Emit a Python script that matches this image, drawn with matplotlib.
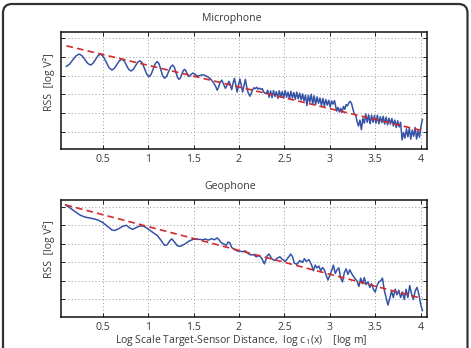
import matplotlib
matplotlib.use("Agg")
import matplotlib.pyplot as plt
from matplotlib.patches import FancyBboxPatch
from matplotlib.transforms import IdentityTransform

plt.rcParams['font.family'] = ['Open Sans', 'DejaVu Sans']
plt.rcParams['mathtext.fontset'] = 'custom'
plt.rcParams['mathtext.rm'] = 'Open Sans'
plt.rcParams['mathtext.it'] = 'Open Sans'

TXT = '#3a3a3a'

# Microphone RSS (log V^2, arbitrary offset; y grid units)
mic_x = [0.10, 0.135, 0.17, 0.205, 0.24, 0.271, 0.3025, 0.334, 0.365, 0.3925, 0.42, 0.4475,
         0.475, 0.506, 0.5375, 0.569, 0.60, 0.6275, 0.655, 0.6825, 0.71, 0.735, 0.76, 0.785,
         0.81, 0.835, 0.86, 0.885, 0.91, 0.935, 0.96, 0.985, 1.01, 1.0325, 1.055, 1.0775,
         1.10, 1.12, 1.14, 1.16, 1.18, 1.2025, 1.225, 1.2475, 1.27, 1.2875, 1.305, 1.3225,
         1.34, 1.355, 1.37, 1.385, 1.40, 1.4125, 1.425, 1.4375, 1.45, 1.47, 1.49, 1.51,
         1.53, 1.55, 1.575, 1.60, 1.625, 1.65, 1.68, 1.70, 1.72, 1.745, 1.76, 1.775, 1.79,
         1.81, 1.83, 1.85, 1.87, 1.89, 1.905, 1.92, 1.935, 1.95, 1.965, 1.98, 1.995, 2.01,
         2.025, 2.04, 2.055, 2.07, 2.085, 2.10, 2.12, 2.135, 2.15, 2.165, 2.18, 2.195, 2.21,
         2.225, 2.24, 2.255, 2.27, 2.285,
         2.300, 2.316, 2.332, 2.348, 2.364, 2.380, 2.396, 2.412, 2.428, 2.444, 2.460, 2.476,
         2.492, 2.508, 2.524, 2.540, 2.556, 2.572, 2.588, 2.604, 2.620, 2.636, 2.652, 2.668,
         2.684, 2.700, 2.716, 2.732, 2.748, 2.764, 2.780, 2.796, 2.812, 2.828, 2.844, 2.860,
         2.876, 2.892, 2.908, 2.924, 2.940, 2.956, 2.972, 2.988, 3.004, 3.020, 3.036, 3.052,
         3.075, 3.090, 3.105, 3.120, 3.135, 3.150, 3.165, 3.180, 3.195, 3.210, 3.225, 3.240,
         3.255, 3.270, 3.285,
         3.300, 3.316, 3.332, 3.348, 3.364, 3.380, 3.396, 3.412, 3.428, 3.444, 3.460, 3.476,
         3.492, 3.508, 3.524, 3.540, 3.556, 3.572, 3.588, 3.604, 3.620, 3.636, 3.652, 3.668,
         3.684, 3.700, 3.716, 3.732, 3.748, 3.764, 3.780, 3.796, 3.812, 3.828, 3.844, 3.860,
         3.876, 3.892, 3.908, 3.924, 3.940, 3.956, 3.972, 3.988, 4.004, 4.020]
mic_y = [3.50, 3.62, 3.85, 4.06, 4.16, 4.07, 3.865, 3.66, 3.57, 3.66, 3.865, 4.07,
         4.16, 4.03, 3.73, 3.43, 3.30, 3.39, 3.595, 3.80, 3.89, 3.80, 3.57, 3.34,
         3.25, 3.33, 3.525, 3.72, 3.80, 3.68, 3.375, 3.07, 2.95, 3.07, 3.355, 3.64,
         3.76, 3.63, 3.31, 2.99, 2.86, 2.96, 3.215, 3.47, 3.57, 3.46, 3.185, 2.91,
         2.80, 2.88, 3.07, 3.26, 3.34, 3.28, 3.145, 3.01, 2.95, 3.05, 3.14, 3.10,
         3.02, 2.98, 3.02, 3.05, 3.01, 2.95, 2.86, 2.75, 2.62, 2.40, 2.22, 2.38, 2.62,
         2.76, 2.55, 2.32, 2.50, 2.70, 2.50, 2.25, 2.60, 2.86, 2.50, 2.12, 2.50, 2.82,
         2.50, 2.12, 2.45, 2.80, 2.40, 2.10, 1.90, 2.05, 2.25, 2.35, 2.30, 2.38, 2.28,
         2.33, 2.26, 2.30, 2.15, 2.05,
         2.05, 2.22, 1.84, 2.18, 1.82, 2.20, 1.88, 2.14, 1.78, 2.19, 1.85, 2.15,
         1.80, 2.20, 1.84, 2.12, 1.76, 2.16, 1.80, 2.10, 1.73, 2.12, 1.76, 2.06,
         1.70, 2.02, 1.64, 1.96, 1.40, 1.95, 1.58, 2.00, 1.48, 1.92, 1.45, 1.86,
         1.52, 1.80, 1.40, 1.78, 1.36, 1.72, 1.42, 1.68, 1.32, 1.64, 1.48, 1.66,
         1.10, 1.30, 1.05, 1.25, 1.02, 1.35, 1.20, 1.45, 1.38, 1.55, 1.62, 1.50,
         1.20, 0.95, 0.90,
         0.55, 0.30, 0.62, 0.10, 0.72, 0.45, 0.95, 0.50, 0.90, 0.42, 0.88, 0.50,
         0.86, 0.45, 0.88, 0.42, 0.80, 0.48, 0.82, 0.40, 0.78, 0.36, 0.72, 0.40,
         0.70, 0.30, 0.62, 0.22, 0.58, 0.25, 0.50, -0.45, -0.05, -0.35, 0.15, -0.28,
         0.18, -0.40, 0.08, -0.25, 0.22, -0.40, 0.05, -0.30, 0.28, 0.65]

# Geophone RSS
geo_x = [0.09, 0.15, 0.20, 0.25, 0.30, 0.35, 0.40, 0.45, 0.50, 0.55, 0.60, 0.63, 0.67,
         0.72, 0.76, 0.80, 0.83, 0.87, 0.91, 0.95, 1.00, 1.05, 1.10, 1.14, 1.18, 1.21,
         1.24, 1.26, 1.29, 1.32, 1.35, 1.40, 1.45, 1.50, 1.55, 1.60, 1.63, 1.66, 1.70,
         1.73, 1.76, 1.78, 1.80, 1.83, 1.86, 1.88, 1.90, 1.92, 1.95, 1.98, 2.01, 2.04,
         2.07, 2.10, 2.13, 2.16, 2.19, 2.22, 2.25, 2.28, 2.31, 2.33, 2.36, 2.39, 2.42,
         2.45, 2.48, 2.51, 2.54, 2.57, 2.59, 2.61, 2.64, 2.67, 2.70, 2.72, 2.74, 2.77,
         2.80, 2.82, 2.84, 2.86, 2.88, 2.90, 2.92, 2.94, 2.96, 2.98, 3.00, 3.02, 3.04,
         3.06, 3.08, 3.10, 3.12, 3.14, 3.16, 3.18, 3.20, 3.22, 3.24, 3.26, 3.28, 3.30,
         3.32, 3.34, 3.36, 3.38, 3.40, 3.42, 3.44, 3.46, 3.48, 3.50, 3.52, 3.54, 3.56,
         3.58, 3.60, 3.62, 3.64, 3.66, 3.68, 3.70, 3.72, 3.74, 3.76, 3.78, 3.80, 3.82,
         3.84, 3.86, 3.88, 3.90, 3.92, 3.94, 3.96, 3.98, 4.00, 4.02]
geo_y = [5.10, 4.90, 4.72, 4.55, 4.45, 4.40, 4.35, 4.28, 4.15, 3.95, 3.75, 3.72, 3.80,
         3.95, 4.00, 3.85, 3.78, 3.88, 3.97, 3.95, 3.80, 3.62, 3.45, 3.20, 2.92, 2.95,
         3.18, 3.27, 3.10, 2.90, 2.86, 2.98, 3.15, 3.25, 3.25, 3.22, 3.26, 3.20, 3.28,
         3.22, 3.32, 3.22, 3.08, 3.00, 2.92, 3.10, 3.05, 2.80, 2.70, 2.62, 2.60, 2.58,
         2.62, 2.48, 2.40, 2.42, 2.30, 2.38, 2.22, 1.92, 2.35, 2.45, 2.20, 2.10, 2.22,
         2.30, 2.15, 2.05, 2.25, 2.45, 2.30, 1.95, 1.90, 2.10, 2.00, 2.20, 2.05, 2.15,
         1.85, 1.55, 1.85, 1.70, 1.80, 1.55, 1.72, 1.60, 1.30, 1.05, 1.30, 1.55, 1.85,
         1.40, 1.60, 1.70, 1.15, 0.95, 1.45, 1.65, 1.35, 1.60, 1.40, 1.25, 1.10, 1.00,
         0.70, 1.15, 0.85, 1.18, 0.80, 0.95, 0.65, 0.85, 0.55, 0.40, 0.75, 0.95, 1.00,
         1.15, 0.50, 0.10, -0.30, 0.05, 0.45, 0.10, 0.55, 0.25, 0.50, 0.10, 0.40, 0.00,
         0.55, 0.10, 0.75, 0.30, 0.00, 0.45, 0.65, 0.30, -0.25, -0.60]

# dashed linear fits (end points)
mic_fit_x = [0.10, 4.02]
mic_fit_y = [4.60, 0.05]
geo_fit_x = [0.09, 4.02]
geo_fit_y = [5.10, 0.05]

x_ticks = [0.5, 1, 1.5, 2, 2.5, 3, 3.5, 4]
x_labels = ['0.5', '1', '1.5', '2', '2.5', '3', '3.5', '4']
y_ticks = [0, 1, 2, 3, 4, 5]

fig = plt.figure(figsize=(4.71, 3.48), dpi=100)

frame = FancyBboxPatch((3, -30), 464.5, 374, boxstyle="round,pad=0,rounding_size=9",
                       transform=IdentityTransform(), facecolor='none',
                       edgecolor='#333333', linewidth=1.6)
fig.patches.append(frame)

ax1 = fig.add_axes([0.1295, 0.572, 0.777, 0.337])
ax2 = fig.add_axes([0.1295, 0.090, 0.777, 0.335])

panels = [(ax1, mic_x, mic_y, mic_fit_x, mic_fit_y),
          (ax2, geo_x, geo_y, geo_fit_x, geo_fit_y)]
for ax, x, y, fx, fy in panels:
    ax.plot(x, y, color='#3553a6', linewidth=1.1, zorder=3)
    ax.plot(fx, fy, color='#d42a2a', linewidth=1.2, linestyle=(0, (4, 2.5)), zorder=4)
    ax.set_xlim(0.04, 4.07)
    ax.set_ylim(-0.93, 5.36)
    ax.set_xticks(x_ticks)
    ax.set_xticklabels(x_labels)
    ax.set_yticks(y_ticks)
    ax.set_yticklabels([])
    ax.grid(True, color='#9a9a9a', linestyle=(0, (1, 2.5)), linewidth=0.7)
    ax.tick_params(direction='in', length=3, width=0.7, top=True, right=True,
                   labelsize=7.6, colors='#222222', labelcolor=TXT, pad=3.5)
    for s in ax.spines.values():
        s.set_linewidth(1.1)
        s.set_color('#111111')

fig.text(232 / 471, 1 - 18.5 / 348, 'Microphone', ha='center', va='center',
         fontsize=7.6, color=TXT)
fig.text(230 / 471, 1 - 186.5 / 348, 'Geophone', ha='center', va='center',
         fontsize=7.6, color=TXT)
fig.text(49 / 471, 1 - 82 / 348, 'RSS  [log V²]', rotation=90, ha='center', va='center',
         fontsize=7.6, color=TXT)
fig.text(49 / 471, 1 - 249 / 348, 'RSS  [log V²]', rotation=90, ha='center', va='center',
         fontsize=7.6, color=TXT)
fig.text(241 / 471, 1 - 340 / 348,
         'Log Scale Target-Sensor Distance,  log c$_{\\,1}$(x)    [log m]',
         ha='center', va='center', fontsize=7.5, color=TXT)

fig.savefig('out.png', dpi=100)
